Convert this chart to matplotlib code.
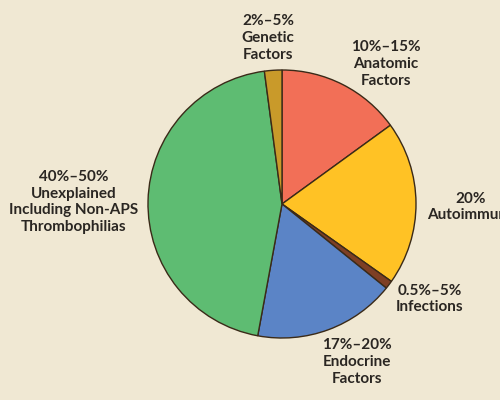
import matplotlib
matplotlib.use("Agg")
import matplotlib.pyplot as plt

# slice order: clockwise from 12 o'clock
causes = ["Anatomic", "Autoimmune", "Infections", "Endocrine", "Unexplained", "Genetic"]
shares = [15.0, 19.8, 1.0, 17.1, 45.0, 2.1]
labels = [
    "10%\u201315%\nAnatomic\nFactors",
    "20%\nAutoimmune",
    "0.5%\u20135%\nInfections",
    "17%\u201320%\nEndocrine\nFactors",
    "40%\u201350%\nUnexplained\nIncluding Non-APS\nThrombophilias",
    "2%\u20135%\nGenetic\nFactors",
]
colors = ["#F26F57", "#FFC225", "#7E3F24", "#5B84C6", "#5EBC72", "#C99A2A"]
bg = "#F0E8D3"

fig = plt.figure(figsize=(5, 4), dpi=100, facecolor=bg)
ax = fig.add_axes([0, 0, 1, 1])
ax.set_facecolor(bg)

ax.pie(shares, colors=colors, startangle=90, counterclock=False,
       center=(282, 196), radius=134, frame=True,
       wedgeprops=dict(edgecolor="#3A2A18", linewidth=1.0))
ax.set_xlim(0, 500)
ax.set_ylim(0, 400)
ax.set_aspect("equal")
ax.axis("off")

# label anchor points (centre of text block)
label_x = [386, 471, 430, 357, 74, 268]
label_y = [336, 193, 101, 38, 198, 362]
for lab, x, y in zip(labels, label_x, label_y):
    ax.text(x, y, lab, ha="center", va="center", fontsize=11,
            fontweight="bold", family="Lato", color="#2A2622",
            linespacing=1.25, clip_on=True)

fig.savefig("out.png", dpi=100, facecolor=bg)
